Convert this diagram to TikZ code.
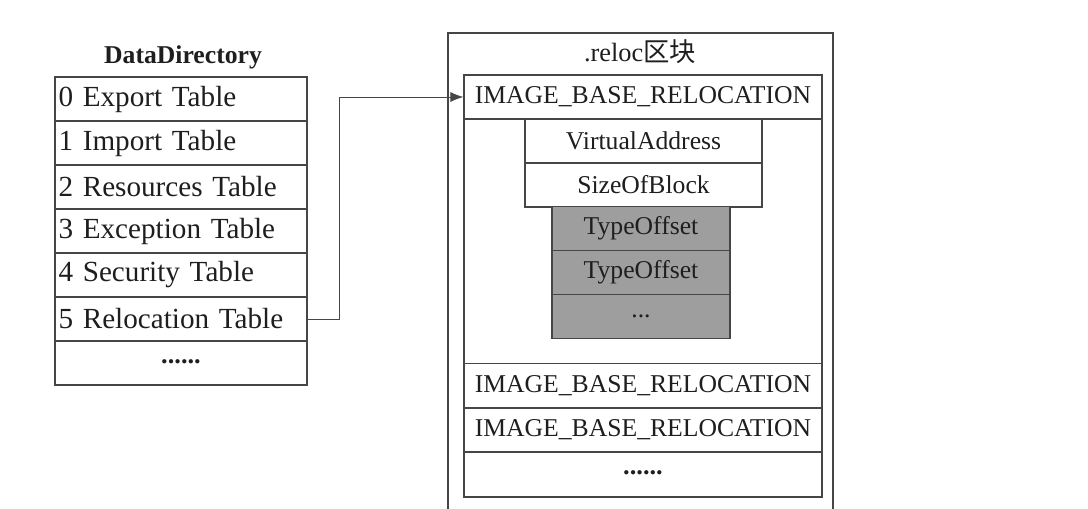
\documentclass[tikz,border=0pt]{standalone}
\usepackage{fontspec}
\setmainfont{Liberation Serif}
\newfontfamily\cjk{Noto Sans CJK SC}
\usetikzlibrary{arrows.meta, positioning}
\definecolor{cLine}{RGB}{70,70,70}
\definecolor{cText}{RGB}{30,30,30}
\definecolor{cShade}{RGB}{158,158,158}
\newcommand{\sixdots}{\raisebox{0.3ex}{\bfseries ......}}
\tikzset{
	frame/.style   ={draw=cLine, line width=0.7pt},
	dirrow/.style  ={rectangle, draw=cLine, line width=0.7pt, minimum width=5.04cm, minimum height=0.88cm, text width=4.9cm, align=left, inner sep=0pt, text=cText, font=\fontsize{16.6}{18}\selectfont},
	relrow/.style  ={rectangle, draw=cLine, line width=0.7pt, minimum width=7.16cm, minimum height=0.88cm, align=center, inner sep=0pt, text=cText, font=\fontsize{14.6}{17}\selectfont},
	fieldrow/.style={relrow, minimum width=4.74cm},
	offrow/.style  ={relrow, minimum width=3.56cm, minimum height=0.87cm, fill=cShade},
	link/.style    ={-{Latex[length=2.6mm, width=2mm]}, draw=cLine, line width=0.5pt},
}
\begin{document}
\begin{tikzpicture}[x=0.02cm, y=-0.02cm]
	\useasboundingbox (0,0) rectangle (1088,509);
	\clip (0,0) rectangle (1088,509);
	% data directory
	\node[text=cText, font=\bfseries\fontsize{14.6}{17}\selectfont] (ddtitle) at (183,57) {DataDirectory};
	\foreach \t [count=\i from 0] in {Export Table, Import Table, Resources Table, Exception Table, Security Table, Relocation Table}
		\node[dirrow] (d\i) at (181,99+44*\i) {\i\ \t};
	\node[dirrow, align=center, font=\fontsize{15}{17}\selectfont] (d6) at (181,363) {\sixdots};
	% .reloc section
	\draw[frame] (448,33) rectangle (833,540);
	\node[text=cText, font=\fontsize{15}{17}\selectfont] (rtitle) at (640,52) {.reloc{\cjk 区块}};
	\draw[frame] (464,75) rectangle (822,497);
	\node[relrow] (ibr0) at (643,97) {IMAGE\_BASE\_RELOCATION};
	\node[fieldrow] (va) at (643.5,141) {VirtualAddress};
	\node[fieldrow] (sob) at (643.5,185) {SizeOfBlock};
	\node[offrow] (to1) at (641,228.5) {TypeOffset};
	\node[offrow] (to2) at (641,272.5) {TypeOffset};
	\node[offrow] (to3) at (641,316.5) {...};
	\node[relrow] (ibr1) at (643,385.5) {IMAGE\_BASE\_RELOCATION};
	\node[relrow] (ibr2) at (643,430) {IMAGE\_BASE\_RELOCATION};
	\node[relrow, font=\fontsize{15}{17}\selectfont] (rdots) at (643,474.5) {\sixdots};
	% pointer
	\draw[link] (d5.east) -- ++(32,0) |- (ibr0.west);
\end{tikzpicture}
\end{document}
